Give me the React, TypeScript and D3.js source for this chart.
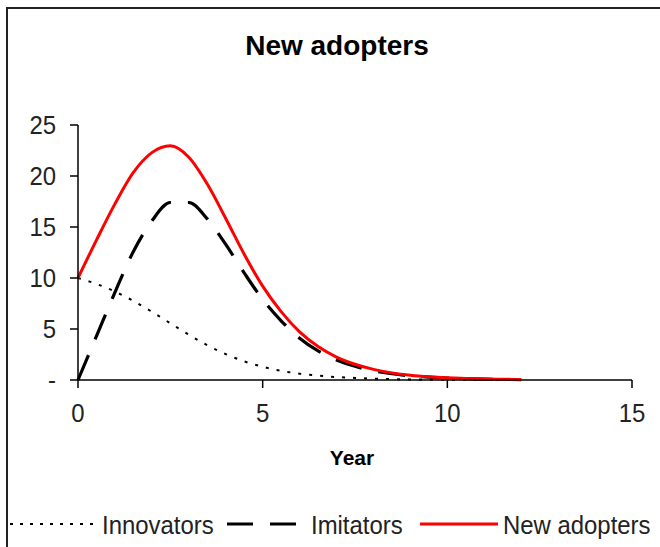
import * as d3 from "d3";

// time in years, half-year steps
const years = [0, 0.5, 1, 1.5, 2, 2.5, 3, 3.5, 4, 4.5, 5, 5.5, 6, 6.5, 7, 7.5, 8, 8.5, 9, 9.5, 10, 10.5, 11, 11.5, 12];
const innovators = [10, 9.42, 8.67, 7.75, 6.69, 5.56, 4.44, 3.41, 2.54, 1.83, 1.3, 0.9, 0.62, 0.43, 0.29, 0.2, 0.13, 0.09, 0.06, 0.04, 0.03, 0.02, 0.01, 0.01, 0.01];
const imitators = [0, 4.3, 8.6, 12.6, 15.6, 17.4, 17.4, 15.8, 13.3, 10.5, 7.9, 5.8, 4.1, 2.85, 1.96, 1.34, 0.91, 0.61, 0.41, 0.28, 0.19, 0.13, 0.08, 0.06, 0.04];
const newAdopters = [10, 13.72, 17.27, 20.35, 22.29, 22.96, 21.84, 19.21, 15.84, 12.33, 9.2, 6.7, 4.72, 3.28, 2.25, 1.54, 1.04, 0.7, 0.47, 0.32, 0.22, 0.15, 0.09, 0.07, 0.05];

const xTicks = [0, 5, 10, 15];
const yTicks = [0, 5, 10, 15, 20, 25];

const font = "'Liberation Sans', Arial, sans-serif";

// slightly narrow text, like the original's squeezed Arial
function Label({ x, y, anchor = "start", children }: { x: number; y: number; anchor?: string; children: any }) {
  return (
    <text transform={`translate(${x},${y}) scale(0.92,1)`} textAnchor={anchor} fontSize={26} fill="#222">
      {children}
    </text>
  );
}

export default function App() {
  const width = 660;
  const height = 547;
  const margin = { top: 125, right: 28, bottom: 167, left: 78 };

  const x = d3.scaleLinear().domain([0, 15]).range([margin.left, width - margin.right]);
  const y = d3.scaleLinear().domain([0, 25]).range([height - margin.bottom, margin.top]);

  const line = (vals: number[]) =>
    d3
      .line<number>()
      .x((_, i) => x(years[i]))
      .y((d) => y(d))
      .curve(d3.curveMonotoneX)(vals) || "";

  const y0 = y(0);

  return (
    <svg
      width={width}
      height={height}
      style={{ position: "absolute", left: 0, top: 0, background: "#fff" }}
      fontFamily={font}
    >
      {/* chart frame, cut off at right and bottom */}
      <rect x={7} y={8} width={720} height={620} fill="none" stroke="#222" strokeWidth={2} />

      <text x={337} y={55} textAnchor="middle" fontSize={28} fontWeight="bold" fill="#000">
        New adopters
      </text>

      {/* series */}
      <path d={line(innovators)} fill="none" stroke="#000" strokeWidth={2} strokeDasharray="3,8" />
      <path d={line(imitators)} fill="none" stroke="#000" strokeWidth={3.2} strokeDasharray="27,17" />
      <path d={line(newAdopters)} fill="none" stroke="#ff0000" strokeWidth={3} />

      {/* axes */}
      <line x1={x(0)} x2={x(0)} y1={y(25)} y2={y0} stroke="#000" strokeWidth={1.5} />
      <line x1={x(0)} x2={x(15)} y1={y0} y2={y0} stroke="#000" strokeWidth={1.5} />
      {yTicks.map((t) => (
        <g key={"y" + t}>
          <line x1={x(0) - 8} x2={x(0)} y1={y(t)} y2={y(t)} stroke="#000" strokeWidth={1.5} />
          <Label x={56} y={y(t) + 9} anchor="end">
            {t === 0 ? "-" : t}
          </Label>
        </g>
      ))}
      {xTicks.map((t) => (
        <g key={"x" + t}>
          <line x1={x(t)} x2={x(t)} y1={y0} y2={y0 + 8} stroke="#000" strokeWidth={1.5} />
          <Label x={x(t)} y={422} anchor="middle">
            {t}
          </Label>
        </g>
      ))}
      <text x={352} y={465} textAnchor="middle" fontSize={21} fontWeight="bold" fill="#000">
        Year
      </text>

      {/* legend */}
      <line x1={10} x2={94} y1={524} y2={524} stroke="#000" strokeWidth={2} strokeDasharray="3,7" />
      <Label x={102} y={534}>Innovators</Label>
      <line x1={227} x2={297} y1={524} y2={524} stroke="#000" strokeWidth={3.2} strokeDasharray="26,17" />
      <Label x={311} y={534}>Imitators</Label>
      <line x1={420} x2={498} y1={524} y2={524} stroke="#ff0000" strokeWidth={3} />
      <Label x={503} y={534}>New adopters</Label>
    </svg>
  );
}
